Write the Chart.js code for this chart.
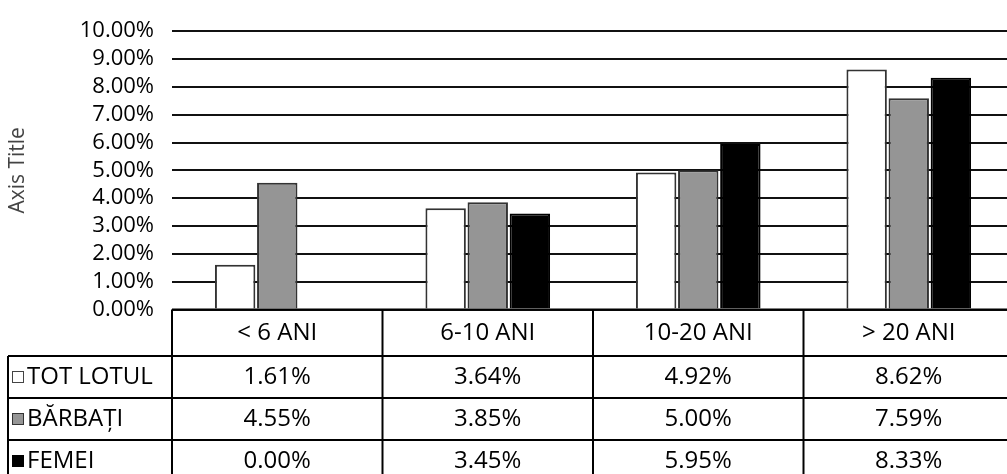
<!DOCTYPE html>
<html>
<head>
<meta charset="utf-8">
<script src="https://cdn.jsdelivr.net/npm/chart.js@4"></script>
<style>
  html, body { margin: 0; padding: 0; background: #fff; overflow: hidden; }
  #wrap { width: 1014px; height: 474px; }
</style>
</head>
<body>
<div id="wrap"><canvas id="ageChart" width="1014" height="474"></canvas></div>
<script>
// categories and series (percent values, shown in the table under the plot)
const CATEGORIES = ["< 6 ANI", "6-10 ANI", "10-20 ANI", "> 20 ANI"];
const SERIES_NAMES = ["TOT LOTUL", "BĂRBAȚI", "FEMEI"];
const TOT_LOTUL = [1.61, 3.64, 4.92, 8.62];
const BARBATI = [4.55, 3.85, 5.00, 7.59];
const FEMEI = [0.00, 3.45, 5.95, 8.33];
const Y_TICKS = { min: 0, max: 10, step: 1 };

const FONT = '"Open Sans", "DejaVu Sans", sans-serif';
const SERIES_STYLE = [
  { fill: "#ffffff", border: "#333333" },
  { fill: "#959595", border: "#333333" },
  { fill: "#000000", border: "#000000" },
];

// table under the plot
const HEADER_H = 46.5;
const ROW_H = 42;
const LEGEND_LEFT = 8;
const TABLE_FONT = `24px ${FONT}`;

function pct(v) {
  return v.toFixed(2) + "%";
}

function line(ctx, x1, y1, x2, y2) {
  ctx.beginPath();
  ctx.moveTo(x1, y1);
  ctx.lineTo(x2, y2);
  ctx.stroke();
}

const dataTablePlugin = {
  id: "dataTable",
  afterDraw(chart) {
    const { ctx, chartArea } = chart;
    const x = chart.scales.x;
    const right = chart.width;
    const bottom = chart.height;
    const colW = x.width / CATEGORIES.length;
    const top = chartArea.bottom;
    const headBottom = top + HEADER_H;

    ctx.save();
    ctx.strokeStyle = "#000";
    ctx.lineWidth = 2;

    line(ctx, x.left, top, right, top);
    for (let r = 0; r < SERIES_NAMES.length; r++) {
      const y = headBottom + r * ROW_H;
      line(ctx, LEGEND_LEFT, y, right, y);
    }
    for (let c = 0; c <= CATEGORIES.length; c++) {
      const xe = x.left + c * colW;
      line(ctx, xe, top, xe, bottom);
    }
    line(ctx, LEGEND_LEFT, headBottom, LEGEND_LEFT, bottom);

    ctx.font = TABLE_FONT;
    ctx.fillStyle = "#000";
    ctx.textAlign = "center";
    ctx.textBaseline = "middle";

    CATEGORIES.forEach((label, c) => {
      ctx.fillText(label, x.getPixelForValue(c), top + HEADER_H / 2);
    });

    chart.data.datasets.forEach((ds, r) => {
      const cy = headBottom + r * ROW_H + ROW_H / 2;
      ds.data.forEach((v, c) => {
        ctx.fillText(pct(v), x.getPixelForValue(c), cy);
      });

      // legend key + series name
      const style = SERIES_STYLE[r];
      ctx.fillStyle = style.fill;
      ctx.fillRect(12, cy - 6, 12, 12);
      ctx.lineWidth = 1;
      ctx.strokeStyle = r === 0 ? "#444" : style.border;
      ctx.strokeRect(12.5, cy - 5.5, 11, 11);
      ctx.fillStyle = "#000";
      ctx.textAlign = "left";
      ctx.fillText(ds.label, 27, cy);
      ctx.textAlign = "center";
    });

    ctx.restore();
  },
};

const datasets = [TOT_LOTUL, BARBATI, FEMEI].map((values, i) => ({
  label: SERIES_NAMES[i],
  data: values,
  backgroundColor: SERIES_STYLE[i].fill,
  borderColor: SERIES_STYLE[i].border,
  borderWidth: 2,
  categoryPercentage: 0.6,
  barPercentage: 0.96,
}));

new Chart(document.getElementById("ageChart"), {
  type: "bar",
  data: { labels: CATEGORIES, datasets },
  options: {
    responsive: false,
    animation: false,
    layout: { padding: { top: 23, right: 0, bottom: 164.5, left: 0 } },
    plugins: {
      legend: { display: false },
      tooltip: { enabled: false },
    },
    scales: {
      x: { display: false },
      y: {
        min: Y_TICKS.min,
        max: Y_TICKS.max,
        afterFit(scale) {
          scale.width = 172;
        },
        border: { display: false },
        grid: { color: "#111", lineWidth: 2, drawTicks: false },
        ticks: {
          stepSize: Y_TICKS.step,
          autoSkip: false,
          padding: 18,
          color: "#000",
          font: { family: FONT, size: 22 },
          callback: (v) => pct(v),
        },
        title: {
          display: true,
          text: "Axis Title",
          color: "#444",
          font: { family: FONT, size: 21 },
          padding: { top: 5, bottom: 0 },
        },
      },
    },
  },
  plugins: [dataTablePlugin],
});
</script>
</body>
</html>
